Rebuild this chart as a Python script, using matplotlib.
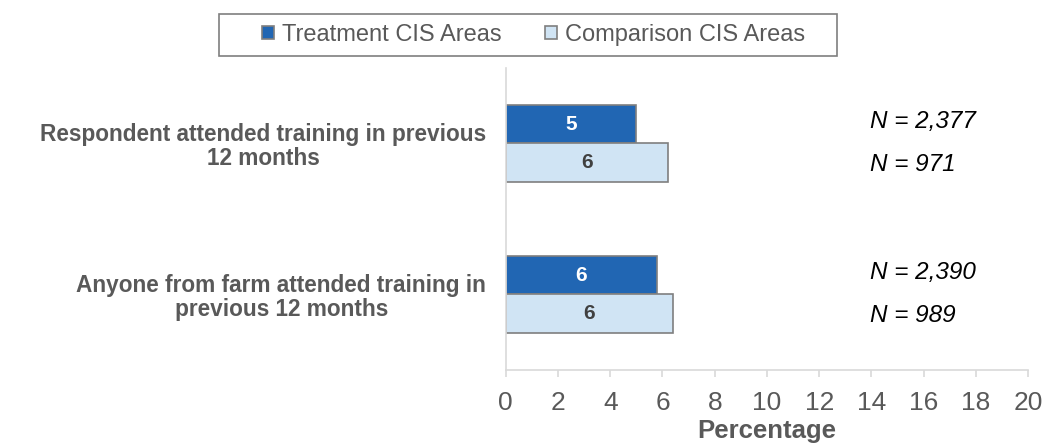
import numpy as np
import matplotlib
matplotlib.use("Agg")
from matplotlib import pyplot as plt
from matplotlib.patches import Rectangle

plt.rcParams['font.family'] = ['Liberation Sans', 'DejaVu Sans']

categories = ["Respondent attended training in previous\n12 months",
              "Anyone from farm attended training in\nprevious 12 months"]
series_names = ["Treatment CIS Areas", "Comparison CIS Areas"]
treatment = [5.0, 5.8]
comparison = [6.2, 6.4]
treatment_labels = ["5", "6"]
comparison_labels = ["6", "6"]
treatment_n = ["2,377", "2,390"]
comparison_n = ["971", "989"]
x_ticks = list(range(0, 21, 2))

dark_blue = "#2166B3"
light_blue = "#D0E4F4"
edge = "#7F7F7F"
axis_gray = "#D9D9D9"
text_gray = "#595959"

fig = plt.figure(figsize=(10.45, 4.43), dpi=100)
ax = fig.add_axes([0.4839, 0.1648, 0.5001, 0.6817])

y = np.arange(len(categories))
h = 0.257
bars_t = ax.barh(y - h / 2, treatment, height=h, color=dark_blue, edgecolor=edge,
                 linewidth=1.2, label=series_names[0])
bars_c = ax.barh(y + h / 2, comparison, height=h, color=light_blue, edgecolor=edge,
                 linewidth=1.2, label=series_names[1])

for bar, lab in zip(bars_t, treatment_labels):
    ax.text(bar.get_width() / 2, bar.get_y() + bar.get_height() / 2, lab,
            ha="center", va="center", color="white", fontsize=15, fontweight="bold")
for bar, lab in zip(bars_c, comparison_labels):
    ax.text(bar.get_width() / 2, bar.get_y() + bar.get_height() / 2, lab,
            ha="center", va="center", color="#404040", fontsize=15, fontweight="bold")

# sample sizes on the right
for i in range(len(categories)):
    ax.text(13.94, y[i] - h / 2 - 0.02, f"N = {treatment_n[i]}", ha="left",
            va="center", fontsize=17.5, style="italic", color="black")
    ax.text(13.94, y[i] + h / 2 + 0.01, f"N = {comparison_n[i]}", ha="left",
            va="center", fontsize=17.5, style="italic", color="black")

ax.set_xlim(0, 20)
ax.set_ylim(len(categories) - 0.5, -0.5)
ax.set_xticks(x_ticks)
ax.set_yticks(y)
ax.set_yticklabels(categories, fontsize=16.3, fontweight="bold", color=text_gray,
                   multialignment="center", linespacing=1.05)
ax.tick_params(axis="y", length=0, pad=14)
ax.tick_params(axis="x", length=5, color=axis_gray, width=1.2, labelsize=19,
               labelcolor=text_gray, pad=10)
for side in ["top", "right"]:
    ax.spines[side].set_visible(False)
for side in ["left", "bottom"]:
    ax.spines[side].set_color(axis_gray)
    ax.spines[side].set_linewidth(1.2)
ax.set_xlabel("Percentage", fontsize=18.5, fontweight="bold", color=text_gray, labelpad=3)

leg = fig.legend(loc="center", bbox_to_anchor=(0.5105, 0.921), ncol=2, fontsize=17,
                 frameon=False, handlelength=0.5, handleheight=0.5,
                 handletextpad=0.36, columnspacing=1.82)
for t in leg.get_texts():
    t.set_color(text_gray)
fig.patches.append(Rectangle((219 / 1045, 1 - 56 / 443), 618 / 1045, 42 / 443,
                             transform=fig.transFigure, fill=False,
                             edgecolor=edge, linewidth=1.2))

fig.savefig("out.png", dpi=100)
